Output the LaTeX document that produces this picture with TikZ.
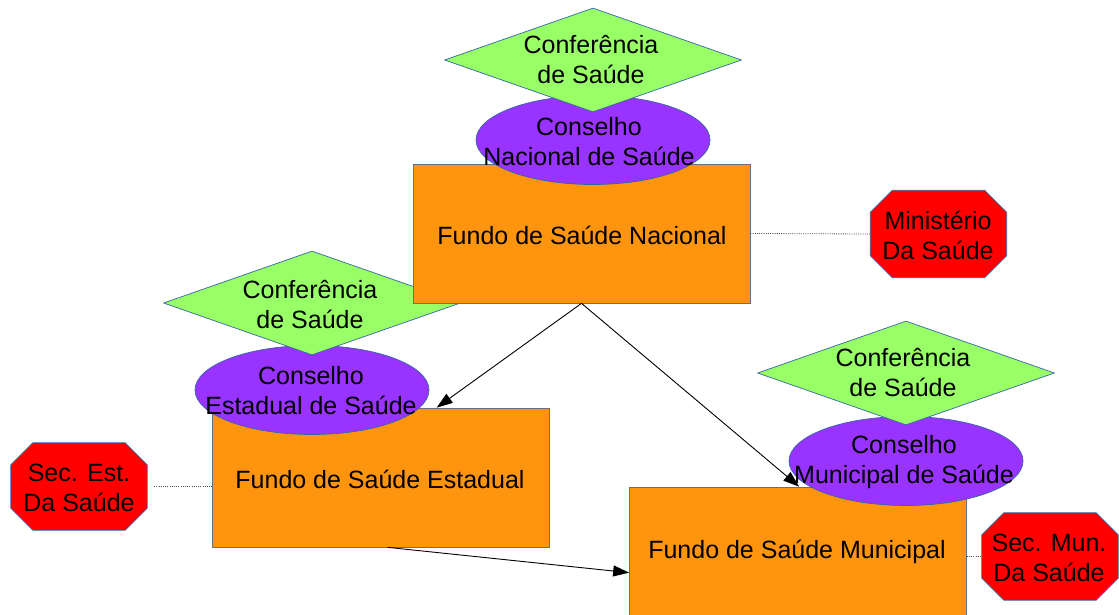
\documentclass[tikz,border=0pt]{standalone}
\usepackage{fontspec}
\setmainfont{Liberation Sans}
\usetikzlibrary{shapes.geometric,arrows.meta,calc}
\definecolor{confgreen}{HTML}{99FF66}
\definecolor{conspurple}{HTML}{9933FF}
\definecolor{fundoorange}{HTML}{FF950E}
\definecolor{secred}{HTML}{FF0000}
\definecolor{edgeblue}{HTML}{3465A4}
\definecolor{edgegray}{HTML}{666F7A}
\newcommand\secoct[1]{%
  \draw[secshape] ($(#1.north west)+(22,0)$) -- ($(#1.north east)+(-22,0)$) -- ($(#1.north east)+(0,22)$) -- ($(#1.south east)+(0,-22)$) -- ($(#1.south east)+(-22,0)$) -- ($(#1.south west)+(22,0)$) -- ($(#1.south west)+(0,-22)$) -- ($(#1.north west)+(0,22)$) -- cycle;}
\begin{document}
\begin{tikzpicture}[x=1pt,y=-1pt,
  confshape/.style={diamond, draw=edgeblue, fill=confgreen, line width=0.7pt, minimum width=297pt, minimum height=104pt, inner sep=0pt},
  consshape/.style={ellipse, draw=edgeblue, fill=conspurple, line width=0.7pt, minimum width=234pt, minimum height=89pt, inner sep=0pt},
  fundoshape/.style={rectangle, draw=edgegray, fill=fundoorange, line width=0.7pt, minimum width=337pt, minimum height=139pt, inner sep=0pt},
  secbox/.style={rectangle, minimum width=136pt, minimum height=87pt, inner sep=0pt},
  secshape/.style={draw=edgeblue, fill=secred, line width=0.7pt},
  lbl/.style={font=\fontsize{25}{30}\selectfont, align=center, inner sep=0pt, text=black},
  flow/.style={draw=black, line width=0.9pt, -{Triangle[length=16pt,width=11pt]}},
  link/.style={draw=black!70, line width=0.8pt, dash pattern=on 1pt off 1.2pt}]
\useasboundingbox (0,0) rectangle (1119,615);
% left cluster
\node[fundoshape] (est) at (380.5,477.5) {};
\node[consshape] (estcons) at (312,390) {};
\node[confshape] (estconf) at (312,303) {};
% right cluster
\node[fundoshape, minimum height=160pt] (mun) at (798,567) {};
\node[consshape] (muncons) at (906,461) {};
\node[confshape] (munconf) at (906,373) {};
% top cluster
\node[fundoshape] (nac) at (581.5,233.5) {};
\node[consshape] (naccons) at (593,140) {};
\node[confshape] (nacconf) at (593,60) {};
% secretarias
\node[secbox] (min) at (938.5,234) {};
\secoct{min}
\node[secbox] (sest) at (79,486.5) {};
\secoct{sest}
\node[secbox] (smun) at (1050,556.5) {};
\secoct{smun}
% dotted links
\draw[link] (nac.east) -- (min.west);
\draw[link] ($(sest.east)+(7,0)$) -- (sest.east -| est.west);
\draw[link] (mun.east |- smun.west) -- (smun.west);
% arrows
\coordinate (nacbot) at (nac.south);
\draw[flow] (nacbot) -- ($(est.north west)+(225,0)$);
\draw[flow] (nacbot) -- ($(mun.north west)+(170,0)$);
\draw[flow] ($(est.south west)+(176,0)$) -- ($(mun.north west)+(0,86)$);
% labels
\node[lbl] (nacconfT) at (591,60) {Conferência\\de Saúde};
\node[lbl] (nacconsT) at (589,142) {Conselho\\Nacional de Saúde};
\node[lbl] (nacT) at (582,235) {Fundo de Saúde Nacional};
\node[lbl] (estconfT) at (310,305) {Conferência\\de Saúde};
\node[lbl] (estconsT) at (311,391) {Conselho\\Estadual de Saúde};
\node[lbl] (estT) at (380,479) {Fundo de Saúde Estadual};
\node[lbl] (munconfT) at (903,373) {Conferência\\de Saúde};
\node[lbl] (munconsT) at (904,462) {Conselho\\Municipal de Saúde};
\node[lbl] (munT) at (797,552) {Fundo de Saúde Municipal};
\node[lbl] (minT) at (938,235) {Ministério\\Da Saúde};
\node[lbl] (sestT) at (79,488) {Sec. Est.\\Da Saúde};
\node[lbl] (smunT) at (1049,558) {Sec. Mun.\\Da Saúde};
\end{tikzpicture}
\end{document}
